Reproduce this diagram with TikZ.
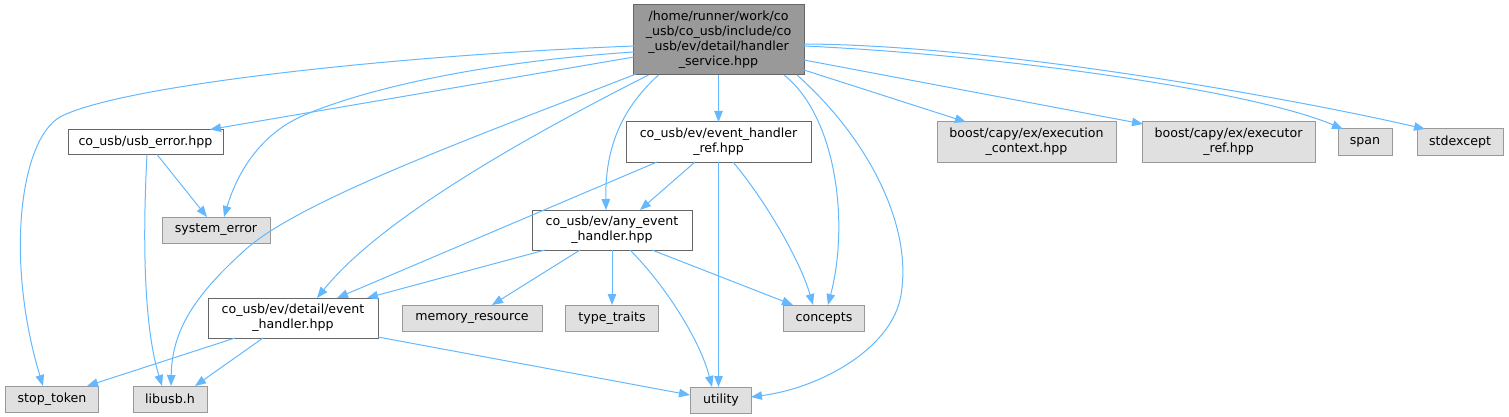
\documentclass[tikz,border=0pt]{standalone}
\usepackage{fontspec}
\setmainfont{DejaVu Sans}
\usetikzlibrary{arrows.meta,calc}
\definecolor{edgeblue}{HTML}{63B8FF}
\definecolor{topfill}{HTML}{999999}
\definecolor{topdraw}{HTML}{666666}
\definecolor{extfill}{HTML}{E0E0E0}
\definecolor{extdraw}{HTML}{999999}
\tikzset{
  base/.style={rectangle,inner sep=0pt,align=center,font=\fontsize{12.6}{15}\selectfont,line width=1pt},
  rootbox/.style={base,fill=topfill,draw=topdraw},
  filebox/.style={base,fill=white,draw=topdraw},
  extbox/.style={base,fill=extfill,draw=extdraw},
  edge/.style={draw=edgeblue,line width=1pt,-{Triangle[length=11pt,width=8.5pt]}}
}
\begin{document}
\begin{tikzpicture}[x=1pt,y=-1pt]
\useasboundingbox (0,0) rectangle (1509,417);
% nodes
\node[rootbox,minimum width=171,minimum height=70] (top) at (718.5,40)
  {/home/runner/work/co\\\_usb/co\_usb/include/co\\\_usb/ev/detail/handler\\\_service.hpp};
\node[filebox,minimum width=155,minimum height=25] (usb) at (145.5,142) {co\_usb/usb\_error.hpp};
\node[extbox,minimum width=108,minimum height=26] (syserr) at (216,230) {system\_error};
\node[filebox,minimum width=185,minimum height=40] (ehref) at (718.5,142) {co\_usb/ev/event\_handler\\\_ref.hpp};
\node[filebox,minimum width=160,minimum height=40] (any) at (612,230) {co\_usb/ev/any\_event\\\_handler.hpp};
\node[filebox,minimum width=170,minimum height=40] (detail) at (293,318) {co\_usb/ev/detail/event\\\_handler.hpp};
\node[extbox,minimum width=140,minimum height=26] (memres) at (472,318) {memory\_resource};
\node[extbox,minimum width=93,minimum height=26] (typetraits) at (612,318) {type\_traits};
\node[extbox,minimum width=81,minimum height=26] (concepts) at (824,318) {concepts};
\node[extbox,minimum width=61,minimum height=26] (utility) at (721,400) {utility};
\node[extbox,minimum width=93,minimum height=26] (stop) at (52,399) {stop\_token};
\node[extbox,minimum width=74,minimum height=26] (libusb) at (170,399) {libusb.h};
\node[extbox,minimum width=179,minimum height=40] (execctx) at (1026.5,142) {boost/capy/ex/execution\\\_context.hpp};
\node[extbox,minimum width=173,minimum height=40] (execref) at (1228.5,142) {boost/capy/ex/executor\\\_ref.hpp};
\node[extbox,minimum width=54,minimum height=26] (span) at (1365,142) {span};
\node[extbox,minimum width=86,minimum height=26] (stdexcept) at (1460,142) {stdexcept};
% edges from root
\draw[edge] ($(top)+(-84.5,6)$) .. controls (400,55) and (120,85) .. (60,117) .. controls (20,140) and (5,260) .. ($(stop)+(-9,-13)$);
\draw[edge] ($(top)+(-84.5,17)$) -- ($(usb)+(64.5,-12.5)$);
\draw[edge] ($(top)+(-84.5,12)$) .. controls (480,62) and (360,90) .. (300,117) .. controls (255,138) and (235,180) .. ($(syserr)+(8,-13)$);
\draw[edge] ($(top)+(-82.5,34)$) .. controls (480,135) and (300,200) .. (245,250) .. controls (195,295) and (172,330) .. ($(libusb)+(1,-13)$);
\draw[edge] ($(top)+(-70,35)$) .. controls (520,140) and (380,220) .. ($(detail)+(24,-20)$);
\draw[edge] ($(top)+(-60,35)$) .. controls (620,110) and (605,150) .. ($(any)+(-6,-20)$);
\draw[edge] ($(top)+(0,35)$) -- ($(ehref)+(0,-20)$);
\draw[edge] ($(top)+(65.5,35)$) .. controls (835,115) and (850,220) .. ($(concepts)+(4,-13)$);
\draw[edge] ($(top)+(78.5,35)$) .. controls (870,140) and (915,230) .. (900,300) .. controls (888,350) and (820,388) .. ($(utility)+(30,-3)$);
\draw[edge] ($(top)+(85.5,30)$) -- ($(execctx)+(-60.5,-20)$);
\draw[edge] ($(top)+(85.5,20)$) -- ($(execref)+(-85.5,-18)$);
\draw[edge] ($(top)+(85.5,6)$) .. controls (1000,55) and (1250,90) .. ($(span)+(-22,-13)$);
\draw[edge] ($(top)+(85.5,4)$) .. controls (1000,45) and (1300,100) .. ($(stdexcept)+(-35,-13)$);
% usb_error
\draw[edge] ($(usb)+(11.5,12.5)$) -- ($(syserr)+(-9,-13)$);
\draw[edge] ($(usb)+(1.5,12.5)$) .. controls (142,250) and (145,330) .. ($(libusb)+(-8,-13)$);
% event_handler_ref
\draw[edge] ($(ehref)+(-23.5,20)$) -- ($(any)+(28,-20)$);
\draw[edge] ($(ehref)+(-61.5,20)$) -- ($(detail)+(44,-20)$);
\draw[edge] ($(ehref)+(0,20)$) -- ($(utility)+(-2.5,-13)$);
\draw[edge] ($(ehref)+(14.5,20)$) .. controls (765,200) and (800,260) .. ($(concepts)+(-11,-13)$);
% any_event_handler
\draw[edge] ($(any)+(-67,20)$) -- ($(detail)+(74,-20)$);
\draw[edge] ($(any)+(-32,20)$) -- ($(memres)+(20,-13)$);
\draw[edge] ($(any)+(0,20)$) -- ($(typetraits)+(0,-13)$);
\draw[edge] ($(any)+(18,20)$) .. controls (665,285) and (700,340) .. ($(utility)+(-9,-13)$);
\draw[edge] ($(any)+(40,20)$) -- ($(concepts)+(-31,-13)$);
% detail/event_handler
\draw[edge] ($(detail)+(-58,20)$) -- ($(stop)+(35,-13)$);
\draw[edge] ($(detail)+(-30,20)$) -- ($(libusb)+(25,-13)$);
\draw[edge] ($(detail)+(85,19)$) -- ($(utility)+(-31,-5)$);
\end{tikzpicture}
\end{document}
